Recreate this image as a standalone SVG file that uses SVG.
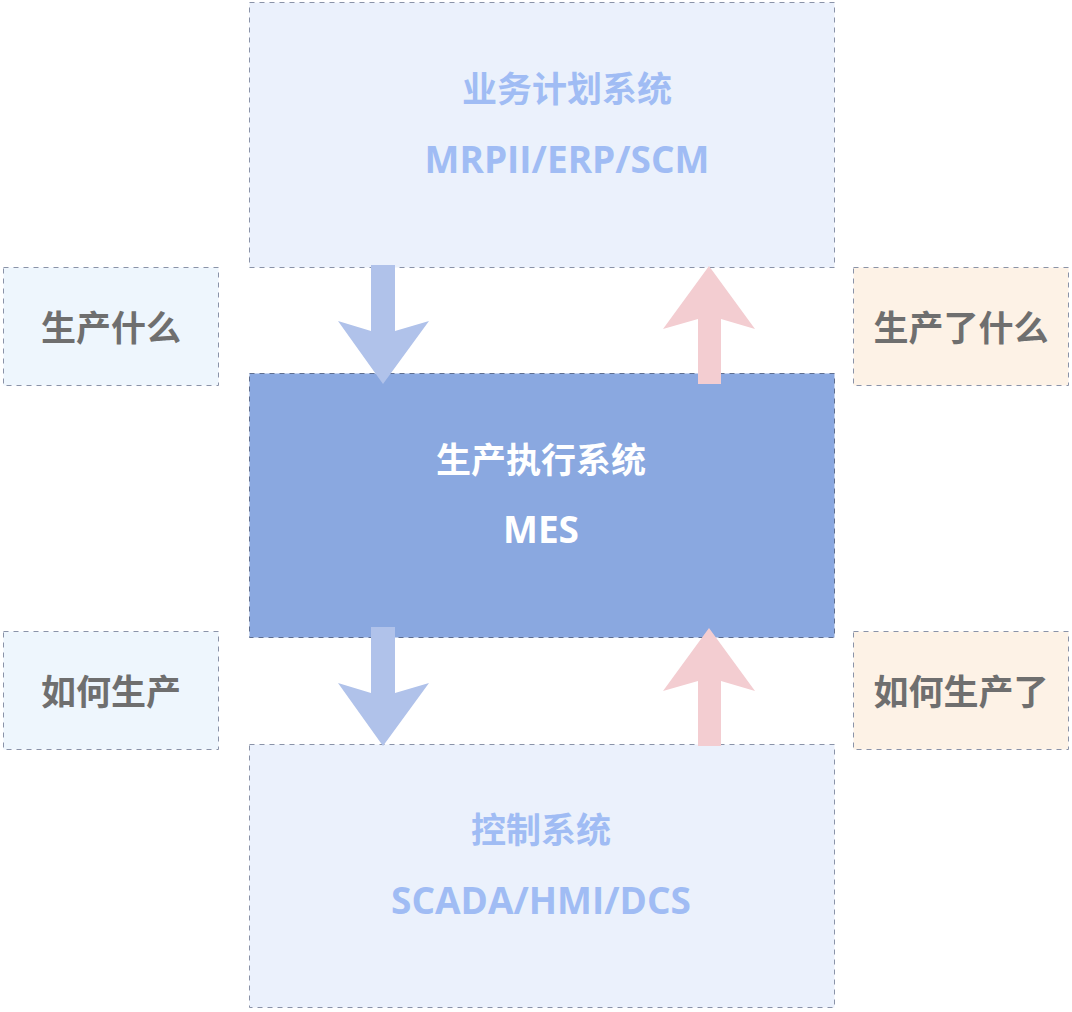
<svg xmlns="http://www.w3.org/2000/svg" width="1072" height="1012" viewBox="0 0 1072 1012">
<style>
text{font-family:"Open Sans","Noto Sans CJK SC",sans-serif;font-weight:bold;text-anchor:middle}
.big{fill:#ebf1fc;stroke:#8a93a8;stroke-dasharray:5 5;stroke-width:1}
.bt{fill:#a0bcf4}
.cj{font-size:35px}
.la{font-size:37px}
.side{stroke:#8a93a8;stroke-dasharray:5 5;stroke-width:1}
.st{fill:#6f6f6f;font-size:35px}
</style>
<rect width="1072" height="1012" fill="#fff"/>
<g id="erp"><rect class="big" x="249.5" y="2.5" width="585" height="265"/><text class="bt cj" x="567" y="102">业务计划系统</text><text class="bt la" x="567" y="173">MRPII/ERP/SCM</text></g>
<g id="mes"><rect x="249.5" y="373.5" width="585" height="264" fill="#8aa8e0" stroke="#5f6f90" stroke-dasharray="5 5"/><text class="cj" x="541" y="473" fill="#fff">生产执行系统</text><text class="la" x="541" y="543" fill="#fff">MES</text></g>
<g id="ctrl"><rect class="big" x="249.5" y="744.5" width="585" height="263"/><text class="bt cj" x="541" y="843">控制系统</text><text class="bt la" x="541" y="914">SCADA/HMI/DCS</text></g>
<g id="l1"><rect class="side" x="3.5" y="267.5" width="215" height="118" fill="#eef6fd"/><text class="st" x="111" y="341">生产什么</text></g>
<g id="l2"><rect class="side" x="3.5" y="631.5" width="215" height="118" fill="#eef6fd"/><text class="st" x="111" y="705">如何生产</text></g>
<g id="r1"><rect class="side" x="853.5" y="267.5" width="215" height="118" fill="#fdf2e6"/><text class="st" x="961" y="341">生产了什么</text></g>
<g id="r2"><rect class="side" x="853.5" y="631.5" width="215" height="118" fill="#fdf2e6"/><text class="st" x="961" y="705">如何生产了</text></g>
<g id="connectors">
<polygon points="371,265 395,265 395,331 429,321 383,384 338,321 371,331" fill="#b0c2ea"/>
<polygon points="698,384 721,384 721,319 755,329 709,266 663,329 698,319" fill="#f3cdd1"/>
<polygon points="371,627 395,627 395,693 429,683 383,746 338,683 371,693" fill="#b0c2ea"/>
<polygon points="698,746 721,746 721,681 755,691 709,628 663,691 698,681" fill="#f3cdd1"/>
</g>
</svg>
